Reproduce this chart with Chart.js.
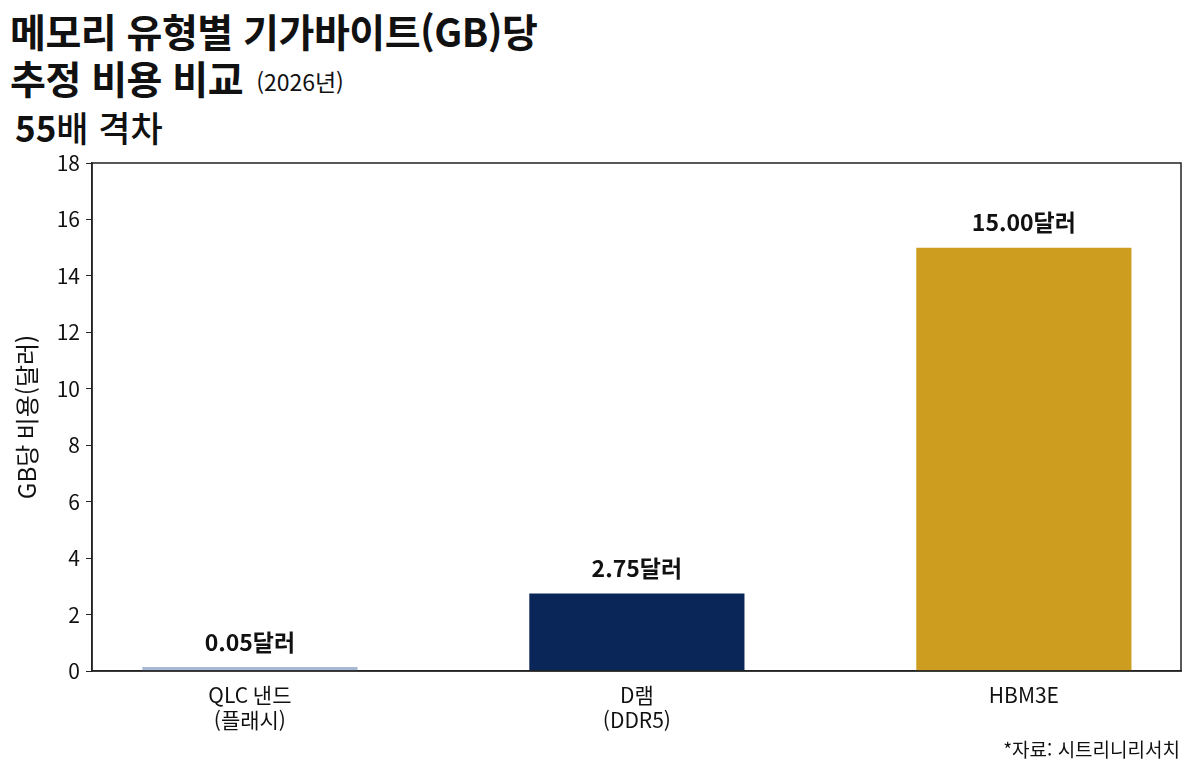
<!DOCTYPE html>
<html lang="ko">
<head>
<meta charset="utf-8">
<script src="https://cdn.jsdelivr.net/npm/chart.js@4/dist/chart.umd.min.js"></script>
<style>
  html, body { margin: 0; padding: 0; background: #fff; }
  body { width: 1200px; height: 775px; position: relative; overflow: hidden;
         font-family: "Noto Sans CJK KR", "Noto Sans", sans-serif; color: #111; }
  #title { position: absolute; left: 10px; top: 7px; font-size: 39px; font-weight: 700;
           line-height: 47px; letter-spacing: -0.5px; white-space: nowrap; }
  #title .yr { font-size: 23px; font-weight: 400; letter-spacing: 0; vertical-align: 3px; margin-left: 13px; }
  #sub { position: absolute; left: 15px; top: 106px; font-size: 35px; line-height: 42px; white-space: nowrap; }
  #sub b { font-weight: 700; }
  #sub span { font-weight: 500; }
  #source { position: absolute; right: 20px; top: 735px; font-size: 19px; color: #111; }
  #wrap { position: absolute; left: 0; top: 0; width: 1200px; height: 775px; }
</style>
</head>
<body>
<div id="title">메모리 유형별 기가바이트(GB)당<br>추정 비용 비교<span class="yr">(2026년)</span></div>
<div id="sub"><b>55</b><span>배 격차</span></div>
<div id="wrap"><canvas id="c"></canvas></div>
<div id="source">*자료: 시트리니리서치</div>
<script>
const categories = [["QLC 낸드", "(플래시)"], ["D램", "(DDR5)"], ["HBM3E"]];
const costPerGB = [0.05, 2.75, 15.00];
const valueLabels = ["0.05달러", "2.75달러", "15.00달러"];
const barColors = ["#a8b9d5", "#0a2558", "#cc9d1f"];
const yTicks = [0, 2, 4, 6, 8, 10, 12, 14, 16, 18];

const FONT = '"Noto Sans CJK KR", "Noto Sans", sans-serif';

const boxPlugin = {
  id: 'box',
  afterDatasetsDraw(chart) {
    const a = chart.chartArea, ctx = chart.ctx;
    ctx.save();
    ctx.strokeStyle = '#222';
    ctx.lineWidth = 1.5;
    ctx.strokeRect(a.left, a.top, a.right - a.left, a.bottom - a.top);
    ctx.restore();
  }
};

const labelPlugin = {
  id: 'vlabels',
  afterDatasetsDraw(chart) {
    const ctx = chart.ctx;
    const meta = chart.getDatasetMeta(0);
    ctx.save();
    ctx.font = '700 23px ' + FONT;
    ctx.fillStyle = '#111';
    ctx.textAlign = 'center';
    ctx.textBaseline = 'middle';
    meta.data.forEach((bar, i) => {
      ctx.fillText(valueLabels[i], bar.x, bar.y - 25);
    });
    ctx.restore();
  }
};

new Chart(document.getElementById('c'), {
  type: 'bar',
  data: {
    datasets: [{
      data: costPerGB.map((v, i) => ({ x: i, y: v })),
      backgroundColor: barColors,
      borderWidth: 0,
      minBarLength: 4,
      categoryPercentage: 1.0,
      barPercentage: 0.556
    }]
  },
  options: {
    responsive: true,
    maintainAspectRatio: false,
    animation: false,
    layout: { padding: { left: 0, right: 19, top: 163, bottom: 0 } },
    plugins: { legend: { display: false }, tooltip: { enabled: false } },
    scales: {
      x: {
        type: 'linear',
        offset: false,
        min: -0.408, max: 2.406,
        afterBuildTicks(s) { s.ticks = categories.map((c, i) => ({ value: i })); },
        grid: { display: false },
        border: { display: true, color: '#222', width: 1.5 },
        ticks: {
          color: '#111', font: { family: FONT, size: 21, lineHeight: 1.22 }, padding: 3, maxRotation: 0,
          callback: (v) => categories[v]
        },
        afterFit(s) { s.height = 104; }
      },
      y: {
        min: 0, max: 18,
        afterBuildTicks(s) { s.ticks = yTicks.map(v => ({ value: v })); },
        grid: { display: true, drawOnChartArea: false, drawTicks: true, tickLength: 6, color: '#222' },
        border: { display: true, color: '#222', width: 1.5 },
        ticks: { color: '#111', font: { family: FONT, size: 21 }, padding: 6 },
        title: { display: true, text: 'GB당 비용(달러)', color: '#111', font: { family: FONT, size: 24, lineHeight: 1.2 }, padding: { top: 12, bottom: 0 } },
        afterFit(s) { s.width = 92; }
      }
    }
  },
  plugins: [boxPlugin, labelPlugin]
});
</script>
</body>
</html>
